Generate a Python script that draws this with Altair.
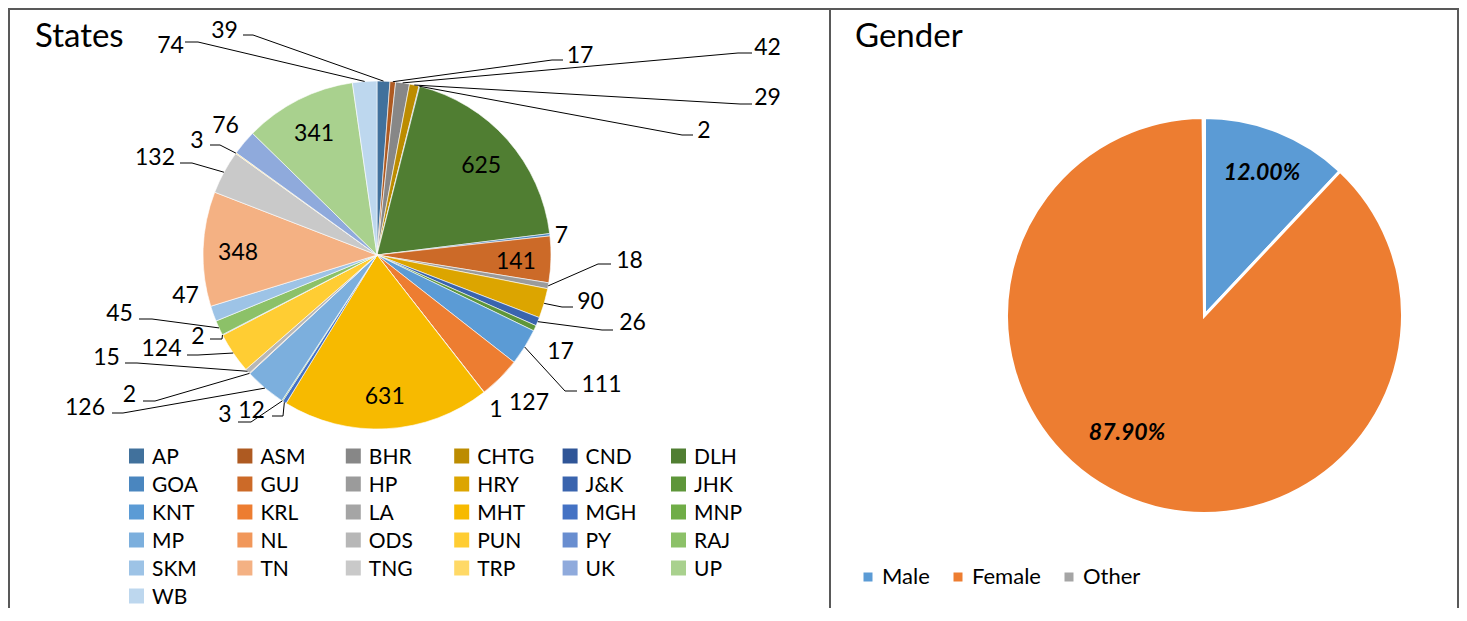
import altair as alt
import pandas as pd

# ---------------- data ----------------
STATES = ["AP", "ASM", "BHR", "CHTG", "CND", "DLH",
          "GOA", "GUJ", "HP", "HRY", "J&K", "JHK",
          "KNT", "KRL", "LA", "MHT", "MGH", "MNP",
          "MP", "NL", "ODS", "PUN", "PY", "RAJ",
          "SKM", "TN", "TNG", "TRP", "UK", "UP",
          "WB"]
COUNTS = [39, 17, 42, 29, 2, 625,
          7, 141, 18, 90, 26, 17,
          111, 127, 1, 631, 12, 3,
          126, 2, 15, 124, 2, 45,
          47, 348, 132, 3, 76, 341,
          74]
GENDERS = ["Male", "Female", "Other"]
GENDER_PCT = [12.00, 87.90, 0.10]

# ---------------- styles ----------------
STATE_COLORS = ["#41719C", "#AE5A21", "#878787", "#BC8C00", "#2F5597", "#507E32",
                "#4A86BF", "#CC6A28", "#9B9B9B", "#DCA500", "#3A64AE", "#5E963A",
                "#5B9BD5", "#ED7D31", "#A5A5A5", "#F7BA00", "#4472C4", "#70AD47",
                "#7CAFDD", "#F1975A", "#B7B7B7", "#FFCD33", "#698ED0", "#8CC168",
                "#9DC3E6", "#F4B183", "#C9C9C9", "#FFD966", "#8FAADC", "#A9D18E",
                "#BDD7EE"]
GENDER_COLORS = ["#5B9BD5", "#ED7D31", "#A5A5A5"]
FONT = "Lato"
OFF = 8  # page margin

W, H = 1451, 600
CX1, CY1, R1 = 377 - OFF, 255 - OFF, 174
CX2, CY2, R2 = 1204.5 - OFF, 315.5 - OFF, 198

# label layout for the States pie (page coords): label centre, leader start, elbow x
LABEL_LAYOUT = {
    "AP": (224.5, 30, 243, 35, 253),
    "ASM": (580, 55, 563, 60, 552),
    "BHR": (767.5, 47, 752, 53, 738),
    "CHTG": (767.5, 97, 752, 104, 740),
    "CND": (704, 130, 693, 135, 682),
    "GOA": (561.5, 235, None, None, None),
    "HP": (629.5, 260, 611, 264, 598),
    "HRY": (590.5, 301, 573, 307, 562),
    "J&K": (632.5, 322, 613, 330, 602),
    "JHK": (560.5, 351, None, None, None),
    "KNT": (601.5, 384, 577, 391, 565),
    "KRL": (529, 402, None, None, None),
    "LA": (496, 408.5, None, None, None),
    "MGH": (251.5, 410, 272, 416, 283),
    "MNP": (225, 414, 238, 422, 251),
    "MP": (85, 407, 112, 413, 123),
    "NL": (129.5, 394, 143, 401, 155),
    "ODS": (106.5, 357, 125, 363, 137),
    "PUN": (161.5, 348, 187, 355, 198),
    "PY": (198, 335.5, 210, 339, 222),
    "RAJ": (119.5, 313, 139, 319, 152),
    "SKM": (185.5, 295, None, None, None),
    "TNG": (155, 157, 180, 163, 192),
    "TRP": (197, 140, 210, 145, 220),
    "UK": (225.5, 125, None, None, None),
    "WB": (170.5, 45, 185, 42, 198),
}
GENDER_LABEL_POS = {"Male": (1262, 172), "Female": (1127, 432)}

# ---------------- tables ----------------
states_df = pd.DataFrame({"state": STATES, "value": COUNTS, "idx": list(range(len(STATES)))})
lay_rows = []
for s, (lx, ly, sx, sy, bx) in LABEL_LAYOUT.items():
    lay_rows.append({
        "state": s,
        "lx": lx - OFF, "ly": ly - OFF + 1,
        "sx": None if sx is None else sx - OFF,
        "sy": None if sy is None else sy - OFF,
        "bx": None if bx is None else bx - OFF,
    })
lay_df = pd.DataFrame(lay_rows)
df = states_df.merge(lay_df, on="state", how="left")

gender_df = pd.DataFrame({"gender": GENDERS, "pct": GENDER_PCT, "gidx": [0, 1, 2]})
gender_df["lx"] = [GENDER_LABEL_POS.get(g, (None, None))[0] for g in GENDERS]
gender_df["ly"] = [GENDER_LABEL_POS.get(g, (None, None))[1] for g in GENDERS]
gender_df["lx"] = gender_df["lx"].astype(float) - OFF
gender_df["ly"] = gender_df["ly"].astype(float) - OFF + 1

state_color = alt.Color("state:N", scale=alt.Scale(domain=STATES, range=STATE_COLORS), legend=None)
theta_s = alt.Theta("value:Q", stack=True)
order_s = alt.Order("idx:Q")

# ---------------- States pie ----------------
arcs = alt.Chart(states_df).mark_arc(outerRadius=R1, stroke="white", strokeWidth=0.6).encode(
    theta=theta_s, order=order_s, color=state_color,
    x=alt.value(CX1), y=alt.value(CY1))

inner = alt.Chart(states_df).transform_calculate(
    lbl="datum.value > 140 ? '' + datum.value : ''"
).mark_text(radius=139, font=FONT, fontSize=23, color="black").encode(
    theta=theta_s, order=order_s, text="lbl:N",
    x=alt.value(CX1), y=alt.value(CY1 + 3))

outer = alt.Chart(df).transform_filter("datum.lx != null").mark_text(
    font=FONT, fontSize=23, color="black", align="center", baseline="middle"
).encode(
    x=alt.X("lx:Q", scale=None, axis=None),
    y=alt.Y("ly:Q", scale=None, axis=None),
    text="value:Q")

lead_base = alt.Chart(df).transform_joinaggregate(
    total="sum(value)"
).transform_window(
    cum="sum(value)", sort=[alt.SortField("idx", order="ascending")], frame=[None, 0]
).transform_calculate(
    mid="(datum.cum - datum.value / 2) / datum.total * 2 * PI",
    ex=f"{CX1} + {R1} * sin(datum.mid)",
    ey=f"{CY1} - {R1} * cos(datum.mid)",
).transform_filter("datum.sx != null")

lead1 = lead_base.mark_rule(color="black", strokeWidth=1).encode(
    x=alt.X("sx:Q", scale=None, axis=None), y=alt.Y("sy:Q", scale=None, axis=None),
    x2="bx:Q", y2="sy:Q")
lead2 = lead_base.mark_rule(color="black", strokeWidth=1).encode(
    x=alt.X("bx:Q", scale=None, axis=None), y=alt.Y("sy:Q", scale=None, axis=None),
    x2="ex:Q", y2="ey:Q")

# custom States legend (6 columns)
leg_base = alt.Chart(states_df).transform_calculate(
    col="datum.idx % 6", row="floor(datum.idx / 6)"
).transform_calculate(
    qx="128.5 + datum.col * 108.4", qy="448 + datum.row * 28",
    tx="144 + datum.col * 108.4", ty="455.5 + datum.row * 28")
leg_sq = leg_base.mark_square(size=225, opacity=1).encode(
    x=alt.X("qx:Q", scale=None, axis=None), y=alt.Y("qy:Q", scale=None, axis=None),
    color=state_color)
leg_tx = leg_base.mark_text(font=FONT, fontSize=21, align="left", baseline="alphabetic",
                            color="black").encode(
    x=alt.X("tx:Q", scale=None, axis=None), y=alt.Y("ty:Q", scale=None, axis=None),
    text="state:N")

# ---------------- Gender pie ----------------
g_arcs = alt.Chart(gender_df).mark_arc(outerRadius=R2, stroke="white", strokeWidth=3).encode(
    theta=alt.Theta("pct:Q", stack=True), order=alt.Order("gidx:Q"),
    color=alt.Color("gender:N", scale=alt.Scale(domain=GENDERS, range=GENDER_COLORS),
                    legend=alt.Legend(orient="none", legendX=849, legendY=558,
                                      direction="horizontal", title=None,
                                      symbolType="square", symbolSize=81,
                                      symbolStrokeWidth=0, labelFont=FONT,
                                      labelFontSize=22, labelColor="black",
                                      labelOffset=3, columnPadding=17, padding=0)),
    x=alt.value(CX2), y=alt.value(CY2))

g_lbl = alt.Chart(gender_df).transform_filter("datum.lx != null").transform_calculate(
    lbl="format(datum.pct, '.2f') + '%'"
).mark_text(font=FONT, fontSize=23, fontWeight="bold", fontStyle="italic",
            color="black", align="center", baseline="middle").encode(
    x=alt.X("lx:Q", scale=None, axis=None), y=alt.Y("ly:Q", scale=None, axis=None),
    text="lbl:N")

# ---------------- frame & titles ----------------
one = alt.Data(values=[{"a": 0}])
BORDER = "#595959"
b_left = alt.Chart(one).mark_rule(color=BORDER, strokeWidth=2).encode(
    x=alt.value(1), y=alt.value(0), y2=alt.value(H))
b_mid = alt.Chart(one).mark_rule(color=BORDER, strokeWidth=2).encode(
    x=alt.value(822), y=alt.value(0), y2=alt.value(H))
b_right = alt.Chart(one).mark_rule(color=BORDER, strokeWidth=2).encode(
    x=alt.value(W - 1), y=alt.value(0), y2=alt.value(H))
b_top = alt.Chart(one).mark_rule(color=BORDER, strokeWidth=2).encode(
    x=alt.value(0), x2=alt.value(W), y=alt.value(1))

t_states = alt.Chart(one).mark_text(font=FONT, fontSize=33, align="left",
                                    baseline="alphabetic", color="black").encode(
    x=alt.value(27), y=alt.value(39), text=alt.value("States"))
t_gender = alt.Chart(one).mark_text(font=FONT, fontSize=33, align="left",
                                    baseline="alphabetic", color="black").encode(
    x=alt.value(847), y=alt.value(39), text=alt.value("Gender"))

chart = alt.layer(
    arcs, inner, lead1, lead2, outer, leg_sq, leg_tx,
    g_arcs, g_lbl,
    b_left, b_mid, b_right, b_top, t_states, t_gender
).resolve_scale(
    theta="independent", color="independent"
).properties(
    width=W, height=H, padding=0,
    autosize=alt.AutoSizeParams(type="none"),
    background="white",
).configure_view(stroke=None)

chart.save("out.html", embed_options={"renderer": "svg", "actions": False})
